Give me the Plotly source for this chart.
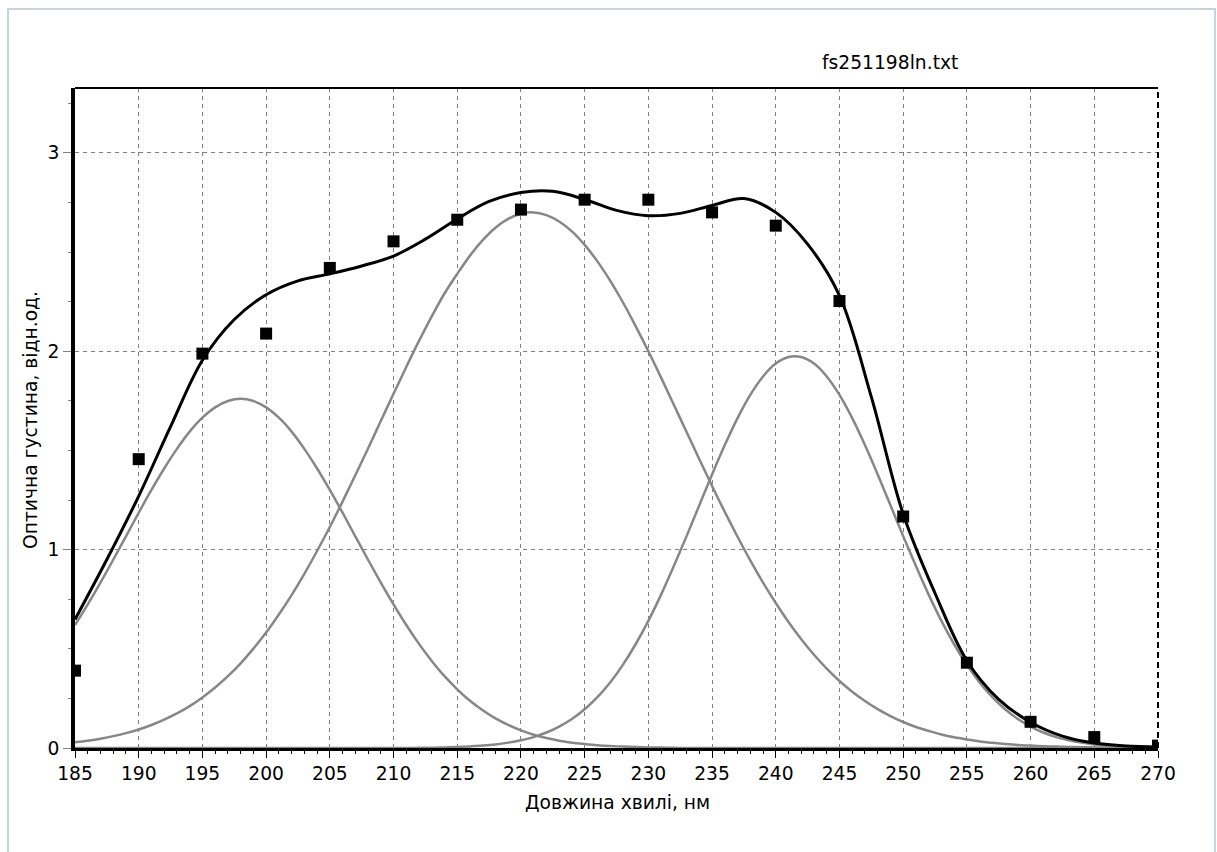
import plotly.graph_objects as go

# ---- data ----
# wavelength grid for the fitted component bands (1 nm)
wl_fine = [185, 186, 187, 188, 189, 190, 191, 192, 193, 194, 195, 196, 197, 198, 199,
           200, 201, 202, 203, 204, 205, 206, 207, 208, 209, 210, 211, 212, 213, 214,
           215, 216, 217, 218, 219, 220, 221, 222, 223, 224, 225, 226, 227, 228, 229,
           230, 231, 232, 233, 234, 235, 236, 237, 238, 239, 240, 241, 242, 243, 244,
           245, 246, 247, 248, 249, 250, 251, 252, 253, 254, 255, 256, 257, 258, 259,
           260, 261, 262, 263, 264, 265, 266, 267, 268, 269, 270]

band1 = [0.620, 0.724, 0.834, 0.949, 1.067, 1.186, 1.301, 1.409, 1.508, 1.595,
         1.665, 1.717, 1.749, 1.760, 1.749, 1.717, 1.665, 1.595, 1.508, 1.409,
         1.301, 1.186, 1.067, 0.949, 0.834, 0.724, 0.620, 0.525, 0.439, 0.362,
         0.296, 0.238, 0.190, 0.149, 0.116, 0.089, 0.067, 0.050, 0.037, 0.027,
         0.020, 0.014, 0.010, 0.007, 0.005, 0.003, 0.002, 0.001,
         0, 0, 0, 0, 0, 0, 0, 0, 0, 0, 0, 0, 0, 0, 0, 0, 0, 0, 0, 0, 0,
         0, 0, 0, 0, 0, 0, 0, 0, 0, 0, 0, 0, 0, 0, 0, 0, 0, 0]

band2 = [0.029, 0.037, 0.047, 0.060, 0.075, 0.093, 0.116, 0.143, 0.174, 0.211,
         0.255, 0.305, 0.362, 0.427, 0.501, 0.582, 0.673, 0.771, 0.878, 0.993,
         1.114, 1.242, 1.375, 1.510, 1.648, 1.786, 1.921, 2.052, 2.176, 2.291,
         2.390, 2.482, 2.560, 2.623, 2.667, 2.693, 2.700, 2.686, 2.654, 2.604,
         2.536, 2.453, 2.356, 2.247, 2.127, 2.000, 1.867, 1.730, 1.593, 1.456,
         1.321, 1.190, 1.065, 0.946, 0.834, 0.731, 0.635, 0.548, 0.470, 0.400,
         0.338, 0.284, 0.237, 0.196, 0.161, 0.131, 0.106, 0.086, 0.068, 0.054,
         0.043, 0.033, 0.026, 0.020, 0.015, 0.012, 0.009, 0.007, 0.005, 0.004,
         0.003, 0.002, 0.001, 0.001, 0.001, 0]

band3 = [0, 0, 0, 0, 0, 0, 0, 0, 0, 0, 0, 0, 0, 0, 0, 0, 0, 0, 0, 0, 0, 0, 0, 0, 0,
         0, 0, 0.001, 0.001, 0.003, 0.005, 0.008, 0.012, 0.018, 0.027, 0.039, 0.055,
         0.078, 0.108, 0.146, 0.195, 0.256, 0.330, 0.419, 0.523, 0.641, 0.773, 0.917,
         1.068, 1.224, 1.379, 1.527, 1.663, 1.780, 1.873, 1.938, 1.971, 1.971, 1.938,
         1.873, 1.780, 1.663, 1.527, 1.379, 1.224, 1.068, 0.917, 0.773, 0.641, 0.523,
         0.419, 0.330, 0.256, 0.195, 0.146, 0.108, 0.078, 0.055, 0.039, 0.027, 0.018,
         0.012, 0.008, 0.005, 0.003, 0.001]

# overall fitted spectrum (2.5 nm)
wl = [185, 187.5, 190, 192.5, 195, 197.5, 200, 202.5, 205, 207.5, 210, 212.5,
      215, 217.5, 220, 222.5, 225, 227.5, 230, 232.5, 235, 237.5, 240, 242.5,
      245, 247.5, 250, 252.5, 255, 257.5, 260, 262.5, 265, 267.5, 270]
fit_total = [0.648, 0.95, 1.27, 1.62, 1.955, 2.16, 2.285, 2.355, 2.39, 2.43, 2.48, 2.565,
             2.667, 2.755, 2.80, 2.806, 2.765, 2.71, 2.683, 2.695, 2.735, 2.77, 2.70, 2.54,
             2.28, 1.77, 1.18, 0.78, 0.44, 0.245, 0.13, 0.06, 0.025, 0.01, 0.005]

# measured points
meas_x = [185, 190, 195, 200, 205, 210, 215, 220, 225, 230, 235, 240, 245, 250,
          255, 260, 265, 270]
meas_y = [0.39, 1.456, 1.988, 2.089, 2.42, 2.554, 2.663, 2.714, 2.764, 2.764, 2.70,
          2.633, 2.253, 1.167, 0.43, 0.132, 0.055, 0.012]

x_ticks = [185, 190, 195, 200, 205, 210, 215, 220, 225, 230, 235, 240, 245, 250,
           255, 260, 265, 270]
y_ticks = [0, 1, 2, 3]

title_text = "fs251198ln.txt"
x_title = "Довжина хвилі, нм"
y_title = "Оптична густина, відн.од."

FONT = "DejaVu Sans, Verdana, sans-serif"
FS = 18.7
GRAY = "#878787"

fig = go.Figure()
for band in (band1, band2, band3):
    fig.add_trace(go.Scatter(x=wl_fine, y=band, mode="lines",
                             line=dict(color=GRAY, width=2.5, shape="spline", smoothing=1.0),
                             showlegend=False, hoverinfo="skip"))
fig.add_trace(go.Scatter(x=wl, y=fit_total, mode="lines",
                         line=dict(color="black", width=3, shape="spline", smoothing=1.0),
                         showlegend=False))
fig.add_trace(go.Scatter(x=meas_x, y=meas_y, mode="markers",
                         marker=dict(symbol="square", size=12, color="black"),
                         showlegend=False))

W, H = 1217, 852
ML, MR, MT, MB = 75, 59, 88, 104
PW, PH = W - ML - MR, H - MT - MB

def px_x(px):
    return (px - ML) / PW

def px_y(py):
    return (H - MB - py) / PH

fig.update_layout(
    width=W, height=H,
    margin=dict(l=ML, r=MR, t=MT, b=MB),
    paper_bgcolor="white", plot_bgcolor="white",
    font=dict(family=FONT, size=FS, color="black"),
    showlegend=False,
)

fig.update_xaxes(
    range=[185, 270], tickvals=x_ticks, ticktext=[str(v) for v in x_ticks],
    showline=True, linecolor="black", linewidth=3,
    ticks="outside", ticklen=7, tickwidth=1, tickcolor="black",
    showgrid=True, gridcolor="#808080", gridwidth=1, griddash="4px,4px",
    zeroline=False,
    minor=dict(dtick=1, tick0=185, ticks="outside", ticklen=3, tickcolor="black", showgrid=False),
    tickfont=dict(family=FONT, size=FS, color="black"),
)
fig.update_yaxes(
    range=[0, 3.327], tickvals=y_ticks, ticktext=[str(v) for v in y_ticks],
    showline=True, linecolor="black", linewidth=3.5,
    ticks="outside", ticklen=8, tickwidth=1, tickcolor="#808080",
    showgrid=True, gridcolor="#808080", gridwidth=1, griddash="4px,4px",
    zeroline=False,
    minor=dict(dtick=0.25, tick0=0, ticks="outside", ticklen=3, tickcolor="#808080", showgrid=False),
    tickfont=dict(family=FONT, size=FS, color="black"),
)

# frame: top solid line, right dashed line, outer light border
fig.add_shape(type="line", xref="paper", yref="paper", x0=0, x1=1, y0=1, y1=1,
              line=dict(color="black", width=2))
fig.add_shape(type="line", xref="paper", yref="paper", x0=1, x1=1, y0=0, y1=1,
              line=dict(color="black", width=2, dash="6px,4px"))
fig.add_shape(type="rect", xref="paper", yref="paper",
              x0=px_x(8), x1=px_x(1215), y0=px_y(9), y1=px_y(860),
              line=dict(color="#c5d3dc", width=2), layer="below")

fig.add_annotation(text=title_text, xref="paper", yref="paper",
                   x=px_x(890), y=px_y(62), xanchor="center", yanchor="middle",
                   showarrow=False, font=dict(family=FONT, size=FS, color="black"))
fig.add_annotation(text=x_title, xref="paper", yref="paper",
                   x=px_x(617), y=px_y(802), xanchor="center", yanchor="middle",
                   showarrow=False, font=dict(family=FONT, size=FS, color="black"))
fig.add_annotation(text=y_title, xref="paper", yref="paper",
                   x=px_x(30), y=px_y(420), xanchor="center", yanchor="middle",
                   textangle=-90, showarrow=False,
                   font=dict(family=FONT, size=FS, color="black"))

fig.write_html("out.html")
